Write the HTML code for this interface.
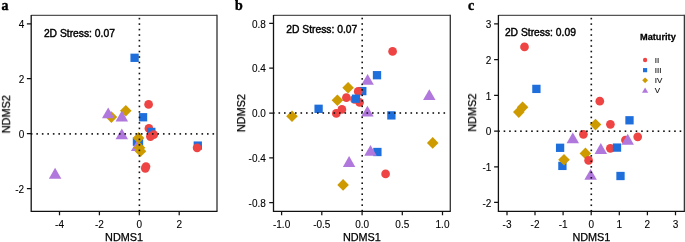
<!DOCTYPE html><html><head><meta charset="utf-8"><style>html,body{margin:0;padding:0;background:#fff;overflow:hidden}svg{display:block}text{font-family:"Liberation Sans",sans-serif;will-change:transform;stroke:#000;stroke-width:0.25px}</style></head><body>
<svg width="685" height="242" viewBox="0 0 685 242">
<rect width="685" height="242" fill="#fff"/>
<rect x="130.45" y="53.65" width="8.30" height="8.30" fill="#1E6FDC"/>
<circle cx="148.60" cy="104.40" r="4.35" fill="#EE4444"/>
<polygon points="111.40,111.30 117.20,117.10 111.40,122.90 105.60,117.10" fill="#CD9B00"/>
<polygon points="108.20,107.40 114.45,118.25 101.95,118.25" fill="#B078DC"/>
<polygon points="125.80,104.90 131.60,110.70 125.80,116.50 120.00,110.70" fill="#CD9B00"/>
<polygon points="121.80,110.60 128.05,121.45 115.55,121.45" fill="#B078DC"/>
<rect x="138.90" y="113.10" width="8.30" height="8.30" fill="#1E6FDC"/>
<circle cx="148.90" cy="128.40" r="4.35" fill="#EE4444"/>
<rect x="147.15" y="127.75" width="8.30" height="8.30" fill="#1E6FDC"/>
<circle cx="150.40" cy="136.60" r="4.35" fill="#EE4444"/>
<circle cx="153.70" cy="134.70" r="4.35" fill="#EE4444"/>
<polygon points="121.80,128.40 128.05,139.25 115.55,139.25" fill="#B078DC"/>
<rect x="132.80" y="137.55" width="8.30" height="8.30" fill="#1E6FDC"/>
<rect x="134.85" y="137.75" width="8.30" height="8.30" fill="#1E6FDC"/>
<polygon points="137.20,140.20 143.45,151.05 130.95,151.05" fill="#B078DC"/>
<polygon points="138.50,132.10 144.30,137.90 138.50,143.70 132.70,137.90" fill="#CD9B00"/>
<polygon points="139.50,142.00 145.30,147.80 139.50,153.60 133.70,147.80" fill="#CD9B00"/>
<polygon points="140.50,145.40 146.30,151.20 140.50,157.00 134.70,151.20" fill="#CD9B00"/>
<circle cx="146.00" cy="166.50" r="4.35" fill="#EE4444"/>
<circle cx="145.30" cy="168.30" r="4.35" fill="#EE4444"/>
<rect x="193.65" y="141.45" width="8.30" height="8.30" fill="#1E6FDC"/>
<circle cx="197.10" cy="147.80" r="4.35" fill="#EE4444"/>
<polygon points="55.10,167.80 61.35,178.65 48.85,178.65" fill="#B078DC"/>
<g fill="#111"><rect x="30.84" y="133.10" width="1.6" height="1.6"/><rect x="36.35" y="133.10" width="1.6" height="1.6"/><rect x="41.86" y="133.10" width="1.6" height="1.6"/><rect x="47.36" y="133.10" width="1.6" height="1.6"/><rect x="52.87" y="133.10" width="1.6" height="1.6"/><rect x="58.37" y="133.10" width="1.6" height="1.6"/><rect x="63.88" y="133.10" width="1.6" height="1.6"/><rect x="69.38" y="133.10" width="1.6" height="1.6"/><rect x="74.89" y="133.10" width="1.6" height="1.6"/><rect x="80.39" y="133.10" width="1.6" height="1.6"/><rect x="85.89" y="133.10" width="1.6" height="1.6"/><rect x="91.40" y="133.10" width="1.6" height="1.6"/><rect x="96.91" y="133.10" width="1.6" height="1.6"/><rect x="102.41" y="133.10" width="1.6" height="1.6"/><rect x="107.92" y="133.10" width="1.6" height="1.6"/><rect x="113.42" y="133.10" width="1.6" height="1.6"/><rect x="118.92" y="133.10" width="1.6" height="1.6"/><rect x="124.43" y="133.10" width="1.6" height="1.6"/><rect x="129.93" y="133.10" width="1.6" height="1.6"/><rect x="135.44" y="133.10" width="1.6" height="1.6"/><rect x="140.94" y="133.10" width="1.6" height="1.6"/><rect x="146.45" y="133.10" width="1.6" height="1.6"/><rect x="151.95" y="133.10" width="1.6" height="1.6"/><rect x="157.46" y="133.10" width="1.6" height="1.6"/><rect x="162.96" y="133.10" width="1.6" height="1.6"/><rect x="168.47" y="133.10" width="1.6" height="1.6"/><rect x="173.97" y="133.10" width="1.6" height="1.6"/><rect x="179.48" y="133.10" width="1.6" height="1.6"/><rect x="184.98" y="133.10" width="1.6" height="1.6"/><rect x="190.49" y="133.10" width="1.6" height="1.6"/><rect x="196.00" y="133.10" width="1.6" height="1.6"/><rect x="201.50" y="133.10" width="1.6" height="1.6"/><rect x="207.00" y="133.10" width="1.6" height="1.6"/><rect x="212.51" y="133.10" width="1.6" height="1.6"/><rect x="138.60" y="17.80" width="1.6" height="1.6"/><rect x="138.60" y="23.29" width="1.6" height="1.6"/><rect x="138.60" y="28.78" width="1.6" height="1.6"/><rect x="138.60" y="34.27" width="1.6" height="1.6"/><rect x="138.60" y="39.76" width="1.6" height="1.6"/><rect x="138.60" y="45.25" width="1.6" height="1.6"/><rect x="138.60" y="50.74" width="1.6" height="1.6"/><rect x="138.60" y="56.23" width="1.6" height="1.6"/><rect x="138.60" y="61.72" width="1.6" height="1.6"/><rect x="138.60" y="67.21" width="1.6" height="1.6"/><rect x="138.60" y="72.70" width="1.6" height="1.6"/><rect x="138.60" y="78.19" width="1.6" height="1.6"/><rect x="138.60" y="83.68" width="1.6" height="1.6"/><rect x="138.60" y="89.17" width="1.6" height="1.6"/><rect x="138.60" y="94.66" width="1.6" height="1.6"/><rect x="138.60" y="100.15" width="1.6" height="1.6"/><rect x="138.60" y="105.64" width="1.6" height="1.6"/><rect x="138.60" y="111.13" width="1.6" height="1.6"/><rect x="138.60" y="116.62" width="1.6" height="1.6"/><rect x="138.60" y="122.11" width="1.6" height="1.6"/><rect x="138.60" y="127.60" width="1.6" height="1.6"/><rect x="138.60" y="133.09" width="1.6" height="1.6"/><rect x="138.60" y="138.58" width="1.6" height="1.6"/><rect x="138.60" y="144.07" width="1.6" height="1.6"/><rect x="138.60" y="149.56" width="1.6" height="1.6"/><rect x="138.60" y="155.05" width="1.6" height="1.6"/><rect x="138.60" y="160.54" width="1.6" height="1.6"/><rect x="138.60" y="166.03" width="1.6" height="1.6"/><rect x="138.60" y="171.52" width="1.6" height="1.6"/><rect x="138.60" y="177.01" width="1.6" height="1.6"/><rect x="138.60" y="182.50" width="1.6" height="1.6"/><rect x="138.60" y="187.99" width="1.6" height="1.6"/><rect x="138.60" y="193.48" width="1.6" height="1.6"/><rect x="138.60" y="198.97" width="1.6" height="1.6"/><rect x="138.60" y="204.46" width="1.6" height="1.6"/><rect x="138.60" y="209.95" width="1.6" height="1.6"/></g>
<path d="M31.20,15.45H217.00" fill="none" stroke="#555" stroke-width="1.2"/>
<path d="M217.00,14.85V211.30" fill="none" stroke="#383838" stroke-width="1.35"/>
<path d="M31.20,14.95V211.30H217.50" fill="none" stroke="#111" stroke-width="1.3"/>
<path d="M59.50,211.30V215.30M99.40,211.30V215.30M139.30,211.30V215.30M179.20,211.30V215.30M31.20,23.90H26.90M31.20,78.60H26.90M31.20,133.60H26.90M31.20,188.60H26.90" stroke="#111" stroke-width="1.25" fill="none"/>
<text x="59.50" y="227.7" font-size="10.0" text-anchor="middle" fill="#000" style="stroke-width:0.1px">-4</text>
<text x="99.40" y="227.7" font-size="10.0" text-anchor="middle" fill="#000" style="stroke-width:0.1px">-2</text>
<text x="139.30" y="227.7" font-size="10.0" text-anchor="middle" fill="#000" style="stroke-width:0.1px">0</text>
<text x="179.20" y="227.7" font-size="10.0" text-anchor="middle" fill="#000" style="stroke-width:0.1px">2</text>
<text x="24.20" y="28.10" font-size="10.0" text-anchor="end" fill="#000" style="stroke-width:0.1px">4</text>
<text x="24.20" y="82.80" font-size="10.0" text-anchor="end" fill="#000" style="stroke-width:0.1px">2</text>
<text x="24.20" y="137.80" font-size="10.0" text-anchor="end" fill="#000" style="stroke-width:0.1px">0</text>
<text x="24.20" y="192.80" font-size="10.0" text-anchor="end" fill="#000" style="stroke-width:0.1px">-2</text>
<text x="124.10" y="241.1" font-size="10.85" text-anchor="middle" fill="#000">NDMS1</text>
<text transform="translate(9.90,114.25) rotate(-90)" x="0" y="0" font-size="10.85" text-anchor="middle" fill="#000">NDMS2</text>
<text x="43.90" y="36.50" font-size="10.3" fill="#000" style="stroke-width:0.42px">2D Stress: 0.07</text>
<text transform="translate(1.40,10.00) scale(0.9,1)" font-size="15.5" font-weight="bold" fill="#000" style="font-family:'Liberation Serif',serif;stroke-width:0.45px">a</text>
<circle cx="392.60" cy="51.40" r="4.35" fill="#EE4444"/>
<rect x="372.85" y="71.05" width="8.30" height="8.30" fill="#1E6FDC"/>
<polygon points="367.60,73.95 373.85,84.80 361.35,84.80" fill="#B078DC"/>
<polygon points="348.10,82.00 353.90,87.80 348.10,93.60 342.30,87.80" fill="#CD9B00"/>
<rect x="358.15" y="86.95" width="8.30" height="8.30" fill="#1E6FDC"/>
<circle cx="358.20" cy="91.40" r="4.35" fill="#EE4444"/>
<circle cx="346.40" cy="97.70" r="4.35" fill="#EE4444"/>
<circle cx="359.60" cy="102.30" r="4.35" fill="#EE4444"/>
<circle cx="354.50" cy="99.40" r="4.35" fill="#EE4444"/>
<rect x="351.85" y="94.55" width="8.30" height="8.30" fill="#1E6FDC"/>
<polygon points="337.40,94.40 343.20,100.20 337.40,106.00 331.60,100.20" fill="#CD9B00"/>
<circle cx="341.90" cy="109.40" r="4.35" fill="#EE4444"/>
<circle cx="336.30" cy="113.45" r="4.35" fill="#EE4444"/>
<rect x="314.45" y="104.65" width="8.30" height="8.30" fill="#1E6FDC"/>
<polygon points="292.00,110.50 297.80,116.30 292.00,122.10 286.20,116.30" fill="#CD9B00"/>
<polygon points="367.40,105.70 373.65,116.55 361.15,116.55" fill="#B078DC"/>
<rect x="387.25" y="111.25" width="8.30" height="8.30" fill="#1E6FDC"/>
<polygon points="429.30,89.20 435.55,100.05 423.05,100.05" fill="#B078DC"/>
<polygon points="432.70,137.10 438.50,142.90 432.70,148.70 426.90,142.90" fill="#CD9B00"/>
<rect x="373.25" y="147.85" width="8.30" height="8.30" fill="#1E6FDC"/>
<polygon points="370.50,145.00 376.75,155.85 364.25,155.85" fill="#B078DC"/>
<polygon points="349.10,156.10 355.35,166.95 342.85,166.95" fill="#B078DC"/>
<circle cx="385.60" cy="173.90" r="4.35" fill="#EE4444"/>
<polygon points="343.10,179.10 348.90,184.90 343.10,190.70 337.30,184.90" fill="#CD9B00"/>
<g fill="#111"><rect x="273.00" y="112.20" width="1.6" height="1.6"/><rect x="278.50" y="112.20" width="1.6" height="1.6"/><rect x="284.00" y="112.20" width="1.6" height="1.6"/><rect x="289.50" y="112.20" width="1.6" height="1.6"/><rect x="295.00" y="112.20" width="1.6" height="1.6"/><rect x="300.50" y="112.20" width="1.6" height="1.6"/><rect x="306.00" y="112.20" width="1.6" height="1.6"/><rect x="311.50" y="112.20" width="1.6" height="1.6"/><rect x="317.00" y="112.20" width="1.6" height="1.6"/><rect x="322.50" y="112.20" width="1.6" height="1.6"/><rect x="328.00" y="112.20" width="1.6" height="1.6"/><rect x="333.50" y="112.20" width="1.6" height="1.6"/><rect x="339.00" y="112.20" width="1.6" height="1.6"/><rect x="344.50" y="112.20" width="1.6" height="1.6"/><rect x="350.00" y="112.20" width="1.6" height="1.6"/><rect x="355.50" y="112.20" width="1.6" height="1.6"/><rect x="361.00" y="112.20" width="1.6" height="1.6"/><rect x="366.50" y="112.20" width="1.6" height="1.6"/><rect x="372.00" y="112.20" width="1.6" height="1.6"/><rect x="377.50" y="112.20" width="1.6" height="1.6"/><rect x="383.00" y="112.20" width="1.6" height="1.6"/><rect x="388.50" y="112.20" width="1.6" height="1.6"/><rect x="394.00" y="112.20" width="1.6" height="1.6"/><rect x="399.50" y="112.20" width="1.6" height="1.6"/><rect x="405.00" y="112.20" width="1.6" height="1.6"/><rect x="410.50" y="112.20" width="1.6" height="1.6"/><rect x="416.00" y="112.20" width="1.6" height="1.6"/><rect x="421.50" y="112.20" width="1.6" height="1.6"/><rect x="427.00" y="112.20" width="1.6" height="1.6"/><rect x="432.50" y="112.20" width="1.6" height="1.6"/><rect x="438.00" y="112.20" width="1.6" height="1.6"/><rect x="443.50" y="112.20" width="1.6" height="1.6"/><rect x="361.40" y="17.70" width="1.6" height="1.6"/><rect x="361.40" y="23.19" width="1.6" height="1.6"/><rect x="361.40" y="28.68" width="1.6" height="1.6"/><rect x="361.40" y="34.17" width="1.6" height="1.6"/><rect x="361.40" y="39.66" width="1.6" height="1.6"/><rect x="361.40" y="45.15" width="1.6" height="1.6"/><rect x="361.40" y="50.64" width="1.6" height="1.6"/><rect x="361.40" y="56.13" width="1.6" height="1.6"/><rect x="361.40" y="61.62" width="1.6" height="1.6"/><rect x="361.40" y="67.11" width="1.6" height="1.6"/><rect x="361.40" y="72.60" width="1.6" height="1.6"/><rect x="361.40" y="78.09" width="1.6" height="1.6"/><rect x="361.40" y="83.58" width="1.6" height="1.6"/><rect x="361.40" y="89.07" width="1.6" height="1.6"/><rect x="361.40" y="94.56" width="1.6" height="1.6"/><rect x="361.40" y="100.05" width="1.6" height="1.6"/><rect x="361.40" y="105.54" width="1.6" height="1.6"/><rect x="361.40" y="111.03" width="1.6" height="1.6"/><rect x="361.40" y="116.52" width="1.6" height="1.6"/><rect x="361.40" y="122.01" width="1.6" height="1.6"/><rect x="361.40" y="127.50" width="1.6" height="1.6"/><rect x="361.40" y="132.99" width="1.6" height="1.6"/><rect x="361.40" y="138.48" width="1.6" height="1.6"/><rect x="361.40" y="143.97" width="1.6" height="1.6"/><rect x="361.40" y="149.46" width="1.6" height="1.6"/><rect x="361.40" y="154.95" width="1.6" height="1.6"/><rect x="361.40" y="160.44" width="1.6" height="1.6"/><rect x="361.40" y="165.93" width="1.6" height="1.6"/><rect x="361.40" y="171.42" width="1.6" height="1.6"/><rect x="361.40" y="176.91" width="1.6" height="1.6"/><rect x="361.40" y="182.40" width="1.6" height="1.6"/><rect x="361.40" y="187.89" width="1.6" height="1.6"/><rect x="361.40" y="193.38" width="1.6" height="1.6"/><rect x="361.40" y="198.87" width="1.6" height="1.6"/><rect x="361.40" y="204.36" width="1.6" height="1.6"/><rect x="361.40" y="209.85" width="1.6" height="1.6"/></g>
<path d="M273.50,15.45H450.30" fill="none" stroke="#555" stroke-width="1.2"/>
<path d="M450.30,14.85V211.30" fill="none" stroke="#383838" stroke-width="1.35"/>
<path d="M273.50,14.95V211.30H450.80" fill="none" stroke="#111" stroke-width="1.3"/>
<path d="M281.60,211.30V215.30M321.80,211.30V215.30M362.10,211.30V215.30M402.30,211.30V215.30M442.50,211.30V215.30M273.50,23.40H269.20M273.50,68.20H269.20M273.50,113.00H269.20M273.50,157.80H269.20M273.50,202.60H269.20" stroke="#111" stroke-width="1.25" fill="none"/>
<text x="281.60" y="227.7" font-size="10.0" text-anchor="middle" fill="#000" style="stroke-width:0.1px">-1.0</text>
<text x="321.80" y="227.7" font-size="10.0" text-anchor="middle" fill="#000" style="stroke-width:0.1px">-0.5</text>
<text x="362.10" y="227.7" font-size="10.0" text-anchor="middle" fill="#000" style="stroke-width:0.1px">0.0</text>
<text x="402.30" y="227.7" font-size="10.0" text-anchor="middle" fill="#000" style="stroke-width:0.1px">0.5</text>
<text x="442.50" y="227.7" font-size="10.0" text-anchor="middle" fill="#000" style="stroke-width:0.1px">1.0</text>
<text x="265.80" y="27.60" font-size="10.0" text-anchor="end" fill="#000" style="stroke-width:0.1px">0.8</text>
<text x="265.80" y="72.40" font-size="10.0" text-anchor="end" fill="#000" style="stroke-width:0.1px">0.4</text>
<text x="265.80" y="117.20" font-size="10.0" text-anchor="end" fill="#000" style="stroke-width:0.1px">0.0</text>
<text x="265.80" y="162.00" font-size="10.0" text-anchor="end" fill="#000" style="stroke-width:0.1px">-0.4</text>
<text x="265.80" y="206.80" font-size="10.0" text-anchor="end" fill="#000" style="stroke-width:0.1px">-0.8</text>
<text x="361.90" y="241.1" font-size="10.85" text-anchor="middle" fill="#000">NDMS1</text>
<text transform="translate(245.00,113.15) rotate(-90)" x="0" y="0" font-size="10.85" text-anchor="middle" fill="#000">NDMS2</text>
<text x="286.30" y="32.80" font-size="10.3" fill="#000" style="stroke-width:0.42px">2D Stress: 0.07</text>
<text transform="translate(235.10,10.00) scale(0.9,1)" font-size="15.5" font-weight="bold" fill="#000" style="font-family:'Liberation Serif',serif;stroke-width:0.45px">b</text>
<circle cx="524.50" cy="46.90" r="4.35" fill="#EE4444"/>
<rect x="532.25" y="84.75" width="8.30" height="8.30" fill="#1E6FDC"/>
<polygon points="522.60,101.40 528.40,107.20 522.60,113.00 516.80,107.20" fill="#CD9B00"/>
<polygon points="518.80,106.30 524.60,112.10 518.80,117.90 513.00,112.10" fill="#CD9B00"/>
<circle cx="599.80" cy="101.20" r="4.35" fill="#EE4444"/>
<rect x="625.35" y="116.15" width="8.30" height="8.30" fill="#1E6FDC"/>
<polygon points="595.50,118.80 601.30,124.60 595.50,130.40 589.70,124.60" fill="#CD9B00"/>
<circle cx="610.40" cy="124.30" r="4.35" fill="#EE4444"/>
<circle cx="583.40" cy="134.30" r="4.35" fill="#EE4444"/>
<polygon points="572.80,132.40 579.05,143.25 566.55,143.25" fill="#B078DC"/>
<circle cx="637.70" cy="136.80" r="4.35" fill="#EE4444"/>
<circle cx="625.40" cy="140.00" r="4.35" fill="#EE4444"/>
<polygon points="627.70,133.80 633.95,144.65 621.45,144.65" fill="#B078DC"/>
<rect x="555.95" y="143.65" width="8.30" height="8.30" fill="#1E6FDC"/>
<circle cx="610.35" cy="148.30" r="4.35" fill="#EE4444"/>
<rect x="612.85" y="143.45" width="8.30" height="8.30" fill="#1E6FDC"/>
<polygon points="600.80,143.10 607.05,153.95 594.55,153.95" fill="#B078DC"/>
<polygon points="585.40,147.60 591.20,153.40 585.40,159.20 579.60,153.40" fill="#CD9B00"/>
<circle cx="588.60" cy="160.40" r="4.35" fill="#EE4444"/>
<rect x="558.25" y="161.75" width="8.30" height="8.30" fill="#1E6FDC"/>
<polygon points="564.00,154.00 569.80,159.80 564.00,165.60 558.20,159.80" fill="#CD9B00"/>
<polygon points="590.60,168.90 596.85,179.75 584.35,179.75" fill="#B078DC"/>
<rect x="616.35" y="171.85" width="8.30" height="8.30" fill="#1E6FDC"/>
<g fill="#111"><rect x="498.15" y="130.40" width="1.6" height="1.6"/><rect x="503.65" y="130.40" width="1.6" height="1.6"/><rect x="509.15" y="130.40" width="1.6" height="1.6"/><rect x="514.65" y="130.40" width="1.6" height="1.6"/><rect x="520.15" y="130.40" width="1.6" height="1.6"/><rect x="525.65" y="130.40" width="1.6" height="1.6"/><rect x="531.15" y="130.40" width="1.6" height="1.6"/><rect x="536.65" y="130.40" width="1.6" height="1.6"/><rect x="542.15" y="130.40" width="1.6" height="1.6"/><rect x="547.65" y="130.40" width="1.6" height="1.6"/><rect x="553.15" y="130.40" width="1.6" height="1.6"/><rect x="558.65" y="130.40" width="1.6" height="1.6"/><rect x="564.15" y="130.40" width="1.6" height="1.6"/><rect x="569.65" y="130.40" width="1.6" height="1.6"/><rect x="575.15" y="130.40" width="1.6" height="1.6"/><rect x="580.65" y="130.40" width="1.6" height="1.6"/><rect x="586.15" y="130.40" width="1.6" height="1.6"/><rect x="591.65" y="130.40" width="1.6" height="1.6"/><rect x="597.15" y="130.40" width="1.6" height="1.6"/><rect x="602.65" y="130.40" width="1.6" height="1.6"/><rect x="608.15" y="130.40" width="1.6" height="1.6"/><rect x="613.65" y="130.40" width="1.6" height="1.6"/><rect x="619.15" y="130.40" width="1.6" height="1.6"/><rect x="624.65" y="130.40" width="1.6" height="1.6"/><rect x="630.15" y="130.40" width="1.6" height="1.6"/><rect x="635.65" y="130.40" width="1.6" height="1.6"/><rect x="641.15" y="130.40" width="1.6" height="1.6"/><rect x="646.65" y="130.40" width="1.6" height="1.6"/><rect x="652.15" y="130.40" width="1.6" height="1.6"/><rect x="657.65" y="130.40" width="1.6" height="1.6"/><rect x="663.15" y="130.40" width="1.6" height="1.6"/><rect x="668.65" y="130.40" width="1.6" height="1.6"/><rect x="674.15" y="130.40" width="1.6" height="1.6"/><rect x="679.65" y="130.40" width="1.6" height="1.6"/><rect x="590.50" y="17.80" width="1.6" height="1.6"/><rect x="590.50" y="23.29" width="1.6" height="1.6"/><rect x="590.50" y="28.78" width="1.6" height="1.6"/><rect x="590.50" y="34.27" width="1.6" height="1.6"/><rect x="590.50" y="39.76" width="1.6" height="1.6"/><rect x="590.50" y="45.25" width="1.6" height="1.6"/><rect x="590.50" y="50.74" width="1.6" height="1.6"/><rect x="590.50" y="56.23" width="1.6" height="1.6"/><rect x="590.50" y="61.72" width="1.6" height="1.6"/><rect x="590.50" y="67.21" width="1.6" height="1.6"/><rect x="590.50" y="72.70" width="1.6" height="1.6"/><rect x="590.50" y="78.19" width="1.6" height="1.6"/><rect x="590.50" y="83.68" width="1.6" height="1.6"/><rect x="590.50" y="89.17" width="1.6" height="1.6"/><rect x="590.50" y="94.66" width="1.6" height="1.6"/><rect x="590.50" y="100.15" width="1.6" height="1.6"/><rect x="590.50" y="105.64" width="1.6" height="1.6"/><rect x="590.50" y="111.13" width="1.6" height="1.6"/><rect x="590.50" y="116.62" width="1.6" height="1.6"/><rect x="590.50" y="122.11" width="1.6" height="1.6"/><rect x="590.50" y="127.60" width="1.6" height="1.6"/><rect x="590.50" y="133.09" width="1.6" height="1.6"/><rect x="590.50" y="138.58" width="1.6" height="1.6"/><rect x="590.50" y="144.07" width="1.6" height="1.6"/><rect x="590.50" y="149.56" width="1.6" height="1.6"/><rect x="590.50" y="155.05" width="1.6" height="1.6"/><rect x="590.50" y="160.54" width="1.6" height="1.6"/><rect x="590.50" y="166.03" width="1.6" height="1.6"/><rect x="590.50" y="171.52" width="1.6" height="1.6"/><rect x="590.50" y="177.01" width="1.6" height="1.6"/><rect x="590.50" y="182.50" width="1.6" height="1.6"/><rect x="590.50" y="187.99" width="1.6" height="1.6"/><rect x="590.50" y="193.48" width="1.6" height="1.6"/><rect x="590.50" y="198.97" width="1.6" height="1.6"/><rect x="590.50" y="204.46" width="1.6" height="1.6"/><rect x="590.50" y="209.95" width="1.6" height="1.6"/></g>
<path d="M498.40,15.45H684.40" fill="none" stroke="#555" stroke-width="1.2"/>
<path d="M684.40,14.85V211.30" fill="none" stroke="#383838" stroke-width="1.35"/>
<path d="M498.40,14.95V211.30H684.90" fill="none" stroke="#111" stroke-width="1.3"/>
<path d="M507.00,211.30V215.30M535.00,211.30V215.30M563.10,211.30V215.30M591.20,211.30V215.30M619.30,211.30V215.30M647.40,211.30V215.30M675.50,211.30V215.30M498.40,23.95H494.10M498.40,59.65H494.10M498.40,95.35H494.10M498.40,131.05H494.10M498.40,166.75H494.10M498.40,202.45H494.10" stroke="#111" stroke-width="1.25" fill="none"/>
<text x="507.00" y="227.7" font-size="10.0" text-anchor="middle" fill="#000" style="stroke-width:0.1px">-3</text>
<text x="535.00" y="227.7" font-size="10.0" text-anchor="middle" fill="#000" style="stroke-width:0.1px">-2</text>
<text x="563.10" y="227.7" font-size="10.0" text-anchor="middle" fill="#000" style="stroke-width:0.1px">-1</text>
<text x="591.20" y="227.7" font-size="10.0" text-anchor="middle" fill="#000" style="stroke-width:0.1px">0</text>
<text x="619.30" y="227.7" font-size="10.0" text-anchor="middle" fill="#000" style="stroke-width:0.1px">1</text>
<text x="647.40" y="227.7" font-size="10.0" text-anchor="middle" fill="#000" style="stroke-width:0.1px">2</text>
<text x="675.50" y="227.7" font-size="10.0" text-anchor="middle" fill="#000" style="stroke-width:0.1px">3</text>
<text x="491.40" y="28.15" font-size="10.0" text-anchor="end" fill="#000" style="stroke-width:0.1px">3</text>
<text x="491.40" y="63.85" font-size="10.0" text-anchor="end" fill="#000" style="stroke-width:0.1px">2</text>
<text x="491.40" y="99.55" font-size="10.0" text-anchor="end" fill="#000" style="stroke-width:0.1px">1</text>
<text x="491.40" y="135.25" font-size="10.0" text-anchor="end" fill="#000" style="stroke-width:0.1px">0</text>
<text x="491.40" y="170.95" font-size="10.0" text-anchor="end" fill="#000" style="stroke-width:0.1px">-1</text>
<text x="491.40" y="206.65" font-size="10.0" text-anchor="end" fill="#000" style="stroke-width:0.1px">-2</text>
<text x="591.40" y="241.1" font-size="10.85" text-anchor="middle" fill="#000">NDMS1</text>
<text transform="translate(476.00,112.65) rotate(-90)" x="0" y="0" font-size="10.85" text-anchor="middle" fill="#000">NDMS2</text>
<text x="504.90" y="35.60" font-size="10.3" fill="#000" style="stroke-width:0.42px">2D Stress: 0.09</text>
<text transform="translate(468.10,10.00) scale(0.9,1)" font-size="15.5" font-weight="bold" fill="#000" style="font-family:'Liberation Serif',serif;stroke-width:0.45px">c</text>
<text transform="translate(640.0,39.7) scale(0.96,1)" font-size="9.6" font-weight="bold" fill="#000">Maturity</text>
<circle cx="645.10" cy="60.00" r="2.17" fill="#EE4444"/>
<text x="654.8" y="62.90" font-size="8.0" fill="#111" style="stroke-width:0.12px">II</text>
<rect x="643.02" y="68.08" width="4.15" height="4.15" fill="#1E6FDC"/>
<text x="654.8" y="73.05" font-size="8.0" fill="#111" style="stroke-width:0.12px">III</text>
<polygon points="645.10,77.40 648.00,80.30 645.10,83.20 642.20,80.30" fill="#CD9B00"/>
<text x="654.8" y="83.20" font-size="8.0" fill="#111" style="stroke-width:0.12px">IV</text>
<polygon points="645.10,87.40 648.23,92.83 641.98,92.83" fill="#B078DC"/>
<text x="654.8" y="93.35" font-size="8.0" fill="#111" style="stroke-width:0.12px">V</text>
</svg></body></html>
